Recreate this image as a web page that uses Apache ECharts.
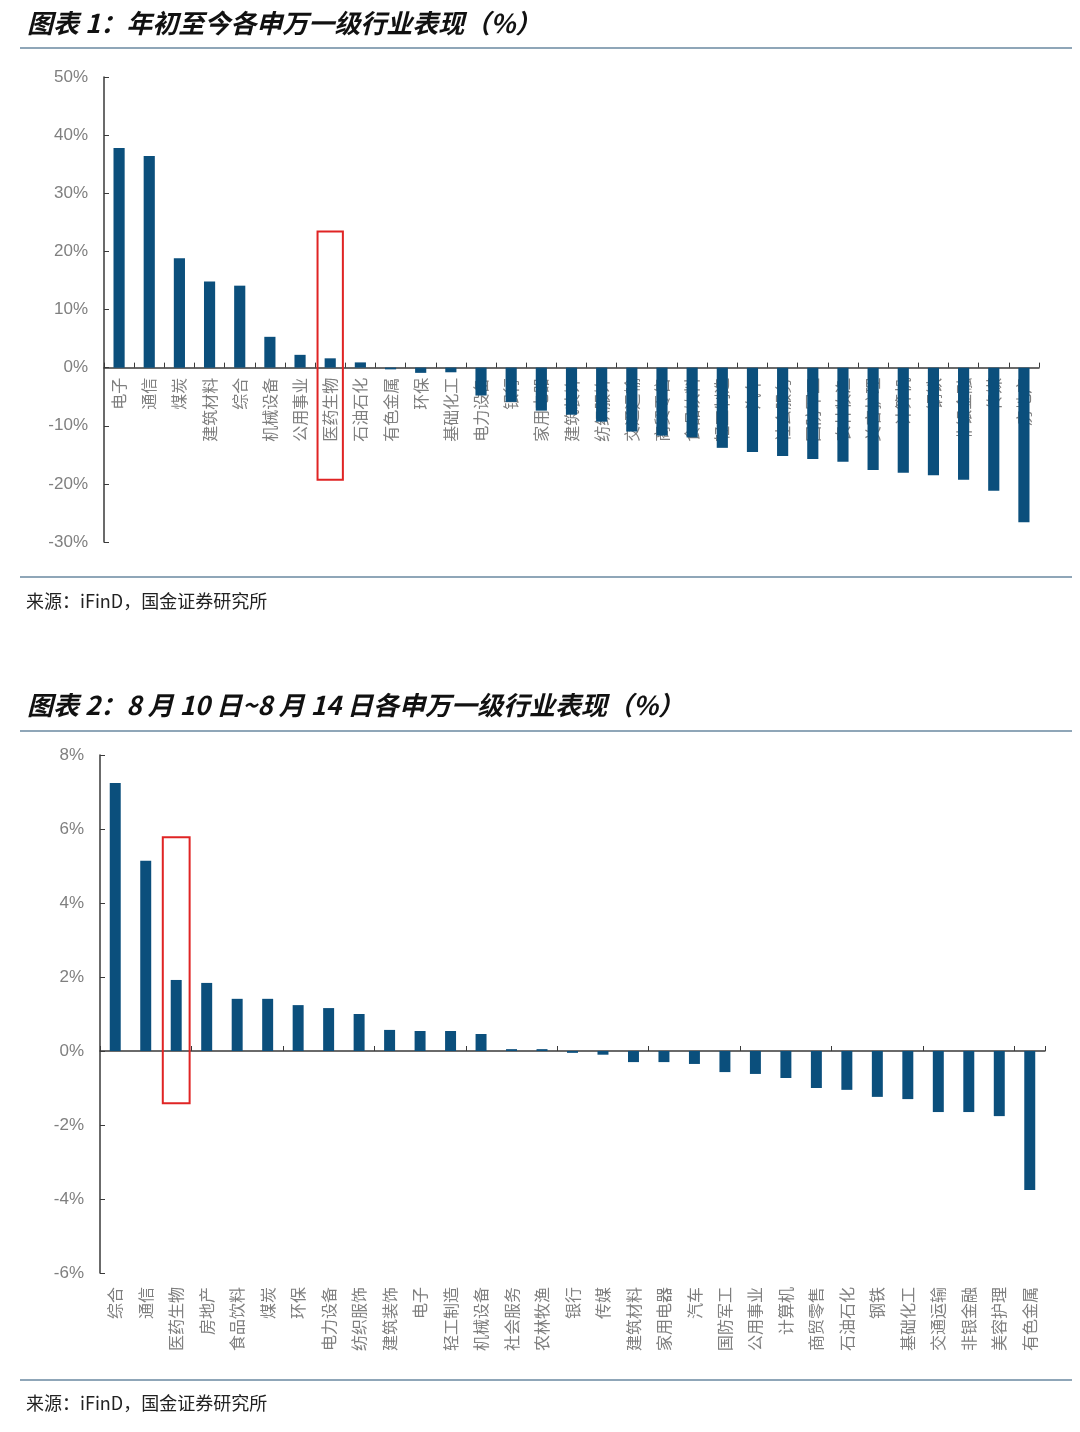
<!DOCTYPE html>
<html>
<head>
<meta charset="utf-8">
<script src="https://cdn.jsdelivr.net/npm/echarts@6/dist/echarts.min.js"></script>
<style>
html,body{margin:0;padding:0;background:#fff;}
#c{width:1080px;height:1432px;}
</style>
</head>
<body>
<div id="c"></div>
<script>
// ---- Data ----
var title1 = '图表 1：年初至今各申万一级行业表现（%）';
var title2 = '图表 2：8 月 10 日~8 月 14 日各申万一级行业表现（%）';
var sourceText = '来源：iFinD，国金证券研究所';

var categories1 = ['电子','通信','煤炭','建筑材料','综合','机械设备','公用事业','医药生物','石油石化','有色金属','环保','基础化工','电力设备','银行','家用电器','建筑装饰','纺织服饰','交通运输','商贸零售','食品饮料','轻工制造','汽车','社会服务','国防军工','农林牧渔','美容护理','计算机','钢铁','非银金融','传媒','房地产'];
var values1 = [37.8, 36.4, 18.8, 14.8, 14.1, 5.3, 2.2, 1.6, 0.9, -0.3, -0.9, -0.8, -4.8, -5.9, -7.4, -8.1, -9.3, -11.0, -11.7, -12.0, -13.8, -14.5, -15.2, -15.7, -16.2, -17.6, -18.1, -18.5, -19.3, -21.2, -26.6];
var yTicks1 = {min: -30, max: 50, interval: 10};
var highlight1 = {category: '医药生物', top: 23.4, bottom: -19.3};

var categories2 = ['综合','通信','医药生物','房地产','食品饮料','煤炭','环保','电力设备','纺织服饰','建筑装饰','电子','轻工制造','机械设备','社会服务','农林牧渔','银行','传媒','建筑材料','家用电器','汽车','国防军工','公用事业','计算机','商贸零售','石油石化','钢铁','基础化工','交通运输','非银金融','美容护理','有色金属'];
var values2 = [7.24, 5.14, 1.92, 1.84, 1.41, 1.41, 1.24, 1.16, 1.0, 0.57, 0.54, 0.54, 0.46, 0.05, 0.05, -0.05, -0.1, -0.3, -0.3, -0.35, -0.57, -0.62, -0.73, -1.0, -1.05, -1.24, -1.3, -1.65, -1.65, -1.76, -3.76];
var yTicks2 = {min: -6, max: 8, interval: 2};
var highlight2 = {category: '医药生物', top: 5.78, bottom: -1.41};

// ---- Chart ----
var chart = echarts.init(document.getElementById('c'), null, {renderer: 'canvas'});
var barColor = '#0b4f7c';
var labelColor = '#7f7f7f';
var axisColor = '#3a3a3a';
var ruleColor = '#8fa6b8';
var cjk = '"Noto Sans CJK SC", "Noto Sans", sans-serif';

function boxRender(widthRatio) {
  return function (params, api) {
    var idx = api.value(0);
    var p1 = api.coord([idx, api.value(1)]);
    var p2 = api.coord([idx, api.value(2)]);
    var w = api.size([1, 0])[0] * widthRatio;
    return {
      type: 'rect',
      shape: {x: p1[0] - w / 2, y: p1[1], width: w, height: p2[1] - p1[1]},
      style: {fill: 'none', stroke: '#e02424', lineWidth: 2}
    };
  };
}

var yAxisCommon = {
  type: 'value',
  splitLine: {show: false},
  axisLine: {show: true, lineStyle: {color: axisColor, width: 1.5}},
  axisTick: {show: true, inside: true, length: 5, lineStyle: {color: axisColor}},
  axisLabel: {formatter: '{value}%', color: labelColor, fontSize: 17, fontFamily: 'Arial, "Liberation Sans", sans-serif', margin: 16}
};

var titleStyle = {fontFamily: cjk, fontSize: 26, fontWeight: 'bold', fontStyle: 'italic', color: '#111'};
var sourceStyle = {fontFamily: cjk, fontSize: 18, fontWeight: 'normal', color: '#222'};

var option = {
  animation: false,
  backgroundColor: '#fff',
  title: [
    {text: title1, left: 22, top: 5, textStyle: titleStyle},
    {text: title2, left: 22, top: 687, textStyle: titleStyle},
    {text: sourceText, left: 21, top: 587, textStyle: sourceStyle},
    {text: sourceText, left: 21, top: 1389, textStyle: sourceStyle}
  ],
  graphic: [
    {type: 'line', shape: {x1: 20, y1: 48, x2: 1072, y2: 48}, style: {stroke: ruleColor, lineWidth: 2}},
    {type: 'line', shape: {x1: 20, y1: 577, x2: 1072, y2: 577}, style: {stroke: ruleColor, lineWidth: 2}},
    {type: 'line', shape: {x1: 20, y1: 731, x2: 1072, y2: 731}, style: {stroke: ruleColor, lineWidth: 2}},
    {type: 'line', shape: {x1: 20, y1: 1380, x2: 1072, y2: 1380}, style: {stroke: ruleColor, lineWidth: 2}}
  ],
  grid: [
    {left: 104, right: 41, top: 77, height: 465},
    {left: 100, right: 35, top: 755, height: 518}
  ],
  xAxis: [
    {
      type: 'category', gridIndex: 0, data: categories1, position: 'bottom', offset: 0,
      axisLine: {show: true, onZero: false, lineStyle: {color: axisColor, width: 1.5}},
      axisTick: {show: true, inside: true, length: 5, lineStyle: {color: axisColor}},
      axisLabel: {interval: 0, rotate: 90, color: labelColor, fontSize: 16, fontFamily: cjk, margin: 10}
    },
    {
      type: 'category', gridIndex: 1, data: categories2, position: 'bottom',
      axisLine: {show: false, onZero: false},
      axisTick: {show: false},
      axisLabel: {interval: 0, rotate: 90, color: labelColor, fontSize: 16, fontFamily: cjk, margin: 14}
    },
    {
      type: 'category', gridIndex: 1, data: categories2, position: 'bottom',
      axisLine: {show: true, onZero: true, lineStyle: {color: axisColor, width: 1.5}},
      axisTick: {show: true, inside: true, length: 5, lineStyle: {color: axisColor}},
      axisLabel: {show: false}
    }
  ],
  yAxis: [
    Object.assign({}, yAxisCommon, {gridIndex: 0, min: yTicks1.min, max: yTicks1.max, interval: yTicks1.interval}),
    Object.assign({}, yAxisCommon, {gridIndex: 1, min: yTicks2.min, max: yTicks2.max, interval: yTicks2.interval})
  ],
  series: [
    {type: 'bar', xAxisIndex: 0, yAxisIndex: 0, data: values1, barWidth: '37%', itemStyle: {color: barColor}, z: 3},
    {type: 'bar', xAxisIndex: 1, yAxisIndex: 1, data: values2, barWidth: '36%', itemStyle: {color: barColor}},
    {
      type: 'custom', xAxisIndex: 0, yAxisIndex: 0, z: 10,
      renderItem: boxRender(0.84),
      data: [[categories1.indexOf(highlight1.category), highlight1.top, highlight1.bottom]]
    },
    {
      type: 'custom', xAxisIndex: 1, yAxisIndex: 1, z: 10,
      renderItem: boxRender(0.88),
      data: [[categories2.indexOf(highlight2.category), highlight2.top, highlight2.bottom]]
    }
  ]
};
chart.setOption(option);

// Move chart 1's category axis (line, ticks and labels) up to the zero value, using the value scale.
var zeroY = chart.convertToPixel({yAxisIndex: 0}, 0);
var minY = chart.convertToPixel({yAxisIndex: 0}, yTicks1.min);
chart.setOption({xAxis: [{offset: -(minY - zeroY)}, {}, {}]});
</script>
</body>
</html>
